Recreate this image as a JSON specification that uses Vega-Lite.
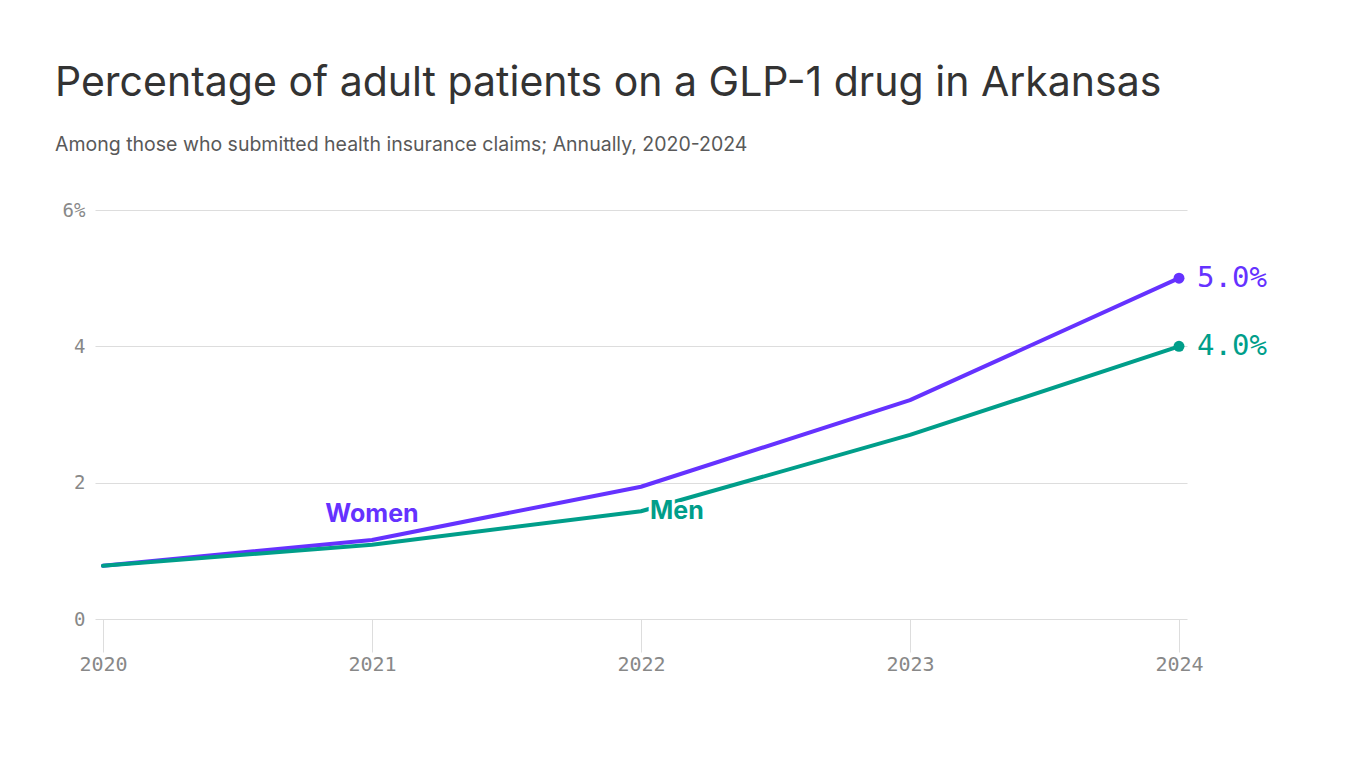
{
  "$schema": "https://vega.github.io/schema/vega-lite/v6.json",
  "width": 1092,
  "height": 409,
  "autosize": "none",
  "padding": {"left": 95, "top": 210, "right": 179, "bottom": 149},
  "background": "white",
  "title": {
    "text": "Percentage of adult patients on a GLP-1 drug in Arkansas",
    "subtitle": "Among those who submitted health insurance claims; Annually, 2020-2024",
    "anchor": "start",
    "frame": "group",
    "dx": -40,
    "offset": 46,
    "font": "Inter",
    "fontSize": 41,
    "fontWeight": 400,
    "color": "#333333",
    "subtitleFont": "Inter",
    "subtitleFontSize": 19.5,
    "subtitleColor": "#595959",
    "subtitlePadding": 31
  },
  "data": {
    "values": [
      {"series": "Women", "year": 2020, "value": 0.78},
      {"series": "Women", "year": 2021, "value": 1.16},
      {"series": "Women", "year": 2022, "value": 1.94},
      {"series": "Women", "year": 2023, "value": 3.21},
      {"series": "Women", "year": 2024, "value": 5.0},
      {"series": "Men", "year": 2020, "value": 0.78},
      {"series": "Men", "year": 2021, "value": 1.09},
      {"series": "Men", "year": 2022, "value": 1.58},
      {"series": "Men", "year": 2023, "value": 2.70},
      {"series": "Men", "year": 2024, "value": 4.0}
    ]
  },
  "encoding": {
    "x": {
      "field": "year",
      "type": "quantitative",
      "scale": {"domain": [2020, 2024], "nice": false, "zero": false, "padding": 8},
      "axis": {
        "title": null,
        "values": [2020, 2021, 2022, 2023, 2024],
        "format": "d",
        "grid": false,
        "domain": false,
        "ticks": true,
        "tickSize": 33,
        "tickColor": "#dddddd",
        "tickWidth": 1,
        "labelFont": "DejaVu Sans Mono",
        "labelFontSize": 20,
        "labelColor": "#888888",
        "labelPadding": 2
      }
    },
    "y": {
      "field": "value",
      "type": "quantitative",
      "scale": {"domain": [0, 6], "nice": false},
      "axis": {
        "title": null,
        "values": [0, 2, 4, 6],
        "labelExpr": "datum.value == 6 ? '6%' : datum.label",
        "grid": true,
        "gridColor": "#dddddd",
        "gridWidth": 1,
        "domain": false,
        "ticks": false,
        "labelFont": "DejaVu Sans Mono",
        "labelFontSize": 19,
        "labelColor": "#888888",
        "labelPadding": 10
      }
    },
    "color": {
      "field": "series",
      "type": "nominal",
      "scale": {"domain": ["Women", "Men"], "range": ["#6532ff", "#009e8a"]},
      "legend": null
    }
  },
  "layer": [
    {
      "mark": {"type": "line", "strokeWidth": 4, "strokeCap": "round", "strokeJoin": "round"}
    },
    {
      "transform": [{"filter": "datum.year == 2024"}],
      "mark": {"type": "point", "filled": true, "opacity": 1, "size": 120}
    },
    {
      "transform": [
        {"filter": "datum.year == 2024"},
        {"calculate": "format(datum.value, '.1f') + '%'", "as": "endLabel"}
      ],
      "mark": {"type": "text", "align": "left", "baseline": "middle", "dx": 18, "font": "DejaVu Sans Mono", "fontSize": 29},
      "encoding": {"text": {"field": "endLabel"}}
    },
    {
      "transform": [{"filter": "datum.series == 'Women' && datum.year == 2021"}],
      "mark": {"type": "text", "align": "center", "baseline": "middle", "dy": -26, "font": "Inter", "fontSize": 25, "fontWeight": 700, "stroke": "white", "strokeWidth": 6, "strokeJoin": "round", "fill": "white"},
      "encoding": {"text": {"field": "series"}, "color": {"value": "white"}}
    },
    {
      "transform": [{"filter": "datum.series == 'Women' && datum.year == 2021"}],
      "mark": {"type": "text", "align": "center", "baseline": "middle", "dy": -26, "font": "Inter", "fontSize": 25, "fontWeight": 700},
      "encoding": {"text": {"field": "series"}}
    },
    {
      "transform": [{"filter": "datum.series == 'Men' && datum.year == 2022"}],
      "mark": {"type": "text", "align": "left", "baseline": "middle", "dx": 9, "font": "Inter", "fontSize": 25, "fontWeight": 700, "stroke": "white", "strokeWidth": 6, "strokeJoin": "round", "fill": "white"},
      "encoding": {"text": {"field": "series"}, "color": {"value": "white"}}
    },
    {
      "transform": [{"filter": "datum.series == 'Men' && datum.year == 2022"}],
      "mark": {"type": "text", "align": "left", "baseline": "middle", "dx": 9, "font": "Inter", "fontSize": 25, "fontWeight": 700},
      "encoding": {"text": {"field": "series"}}
    }
  ],
  "config": {
    "view": {"stroke": null}
  }
}
